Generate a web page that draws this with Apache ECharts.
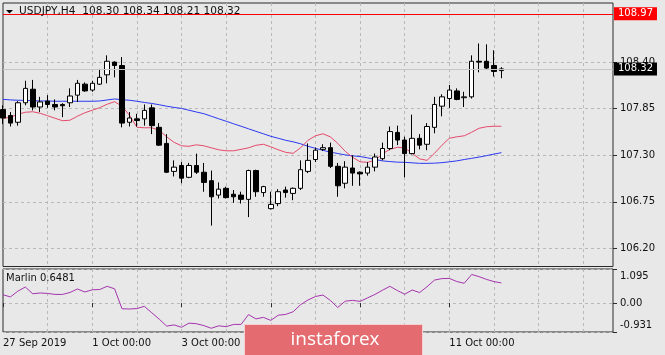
<!DOCTYPE html>
<html>
<head>
<meta charset="utf-8">
<script src="https://cdn.jsdelivr.net/npm/echarts@6/dist/echarts.min.js"></script>
<style>
  html, body { margin: 0; padding: 0; background: #e8e8e8; }
  #chart { width: 665px; height: 355px; }
</style>
</head>
<body>
<div id="chart"></div>
<script>
// USDJPY H4 candles: [open, close, low, high]
const candles = [
  [107.84, 107.74, 107.67, 107.89], [107.77, 107.68, 107.64, 107.81], [107.69, 107.92, 107.65, 107.94],
  [107.92, 108.09, 107.89, 108.18], [108.08, 107.87, 107.83, 108.19], [107.87, 107.93, 107.81, 107.99],
  [107.94, 107.90, 107.86, 108.01], [107.90, 107.87, 107.83, 107.96], [107.90, 107.885, 107.75, 107.915],
  [107.92, 108.00, 107.87, 108.09], [108.01, 108.15, 107.93, 108.19], [108.14, 108.06, 108.05, 108.16],
  [108.07, 108.15, 108.05, 108.18], [108.14, 108.22, 108.13, 108.32], [108.25, 108.41, 108.15, 108.48],
  [108.40, 108.36, 108.22, 108.41], [108.36, 107.68, 107.63, 108.46], [107.69, 107.74, 107.64, 107.81],
  [107.73, 107.71, 107.64, 107.79], [107.73, 107.83, 107.65, 107.90], [107.86, 107.65, 107.55, 107.90],
  [107.63, 107.42, 107.41, 107.68], [107.44, 107.10, 107.09, 107.55], [107.11, 107.16, 107.05, 107.24],
  [107.18, 107.03, 106.97, 107.22], [107.04, 107.18, 107.03, 107.21], [107.18, 107.10, 107.08, 107.32],
  [107.10, 106.98, 106.87, 107.21], [107.00, 106.81, 106.47, 107.12], [106.83, 106.90, 106.79, 106.98],
  [106.91, 106.80, 106.79, 106.93], [106.84, 106.81, 106.74, 106.89], [106.83, 106.78, 106.73, 106.87],
  [106.78, 107.12, 106.57, 107.13], [107.12, 106.87, 106.81, 107.13], [106.86, 106.93, 106.81, 106.94],
  [106.67, 106.72, 106.66, 106.87], [106.73, 106.87, 106.70, 106.90], [106.89, 106.86, 106.80, 106.93],
  [106.85, 106.91, 106.77, 106.92], [106.91, 107.13, 106.89, 107.24], [107.11, 107.24, 107.09, 107.44],
  [107.25, 107.36, 107.22, 107.39], [107.37, 107.39, 107.35, 107.43], [107.39, 107.17, 107.15, 107.45],
  [107.17, 106.94, 106.81, 107.21], [106.97, 107.16, 106.91, 107.23], [107.15, 107.09, 106.94, 107.30],
  [107.10, 107.08, 106.94, 107.11], [107.09, 107.16, 107.06, 107.22], [107.16, 107.28, 107.11, 107.32],
  [107.26, 107.38, 107.24, 107.45], [107.38, 107.58, 107.36, 107.64], [107.57, 107.48, 107.42, 107.65],
  [107.48, 107.32, 107.04, 107.52], [107.32, 107.50, 107.31, 107.78], [107.50, 107.42, 107.37, 107.55],
  [107.43, 107.64, 107.36, 107.68], [107.63, 107.90, 107.56, 107.99], [107.88, 107.99, 107.76, 108.02],
  [107.97, 108.07, 107.86, 108.13], [108.06, 107.96, 107.95, 108.09], [107.98, 107.99, 107.87, 108.05],
  [107.99, 108.41, 107.97, 108.48], [108.41, 108.40, 108.28, 108.62], [108.41, 108.33, 108.31, 108.61],
  [108.36, 108.29, 108.23, 108.54], [108.30, 108.32, 108.21, 108.34]
];

// moving averages (red fast, blue slow)
const maRed = [
  107.737, 107.749, 107.785, 107.808, 107.814, 107.796, 107.767, 107.737, 107.708, 107.714,
  107.761, 107.802, 107.832, 107.862, 107.903, 107.933, 107.879, 107.773, 107.631, 107.625,
  107.625, 107.595, 107.518, 107.453, 107.412, 107.406, 107.424, 107.412, 107.388, 107.365,
  107.353, 107.353, 107.370, 107.388, 107.418, 107.430, 107.400, 107.365, 107.335, 107.323,
  107.388, 107.477, 107.530, 107.554, 107.518, 107.441, 107.347, 107.276, 107.223, 107.217,
  107.240, 107.317, 107.370, 107.394, 107.388, 107.323, 107.258, 107.240, 107.323, 107.418,
  107.501, 107.518, 107.530, 107.572, 107.619, 107.637, 107.643, 107.643
];
const maBlue = [
  107.960, 107.954, 107.950, 107.948, 107.944, 107.942, 107.941, 107.938, 107.938, 107.938,
  107.938, 107.938, 107.938, 107.941, 107.953, 107.965, 107.956, 107.950, 107.938, 107.924,
  107.912, 107.897, 107.879, 107.865, 107.853, 107.832, 107.811, 107.791, 107.761, 107.731,
  107.702, 107.672, 107.643, 107.613, 107.583, 107.554, 107.524, 107.501, 107.477, 107.459,
  107.436, 107.406, 107.382, 107.359, 107.337, 107.321, 107.305, 107.294, 107.285, 107.270,
  107.252, 107.234, 107.226, 107.219, 107.217, 107.211, 107.205, 107.205, 107.207, 107.213,
  107.223, 107.234, 107.250, 107.264, 107.279, 107.296, 107.314, 107.331
];

// Marlin oscillator
const marlin = [
  0.267, 0.197, 0.382, 0.515, 0.299, 0.324, 0.309, 0.277, 0.277, 0.340,
  0.452, 0.356, 0.426, 0.436, 0.538, 0.458, -0.184, -0.191, -0.178, -0.105,
  -0.312, -0.518, -0.741, -0.703, -0.779, -0.646, -0.665, -0.725, -0.811, -0.732,
  -0.760, -0.687, -0.687, -0.372, -0.509, -0.461, -0.557, -0.391, -0.366, -0.280,
  -0.054, 0.099, 0.210, 0.258, 0.086, -0.143, 0.060, 0.086, 0.054, 0.165,
  0.277, 0.410, 0.538, 0.404, 0.283, 0.420, 0.337, 0.525, 0.738, 0.786,
  0.792, 0.693, 0.636, 0.919, 0.849, 0.760, 0.690, 0.6481
];

const tickIdx = [0, 12, 24, 36, 48, 60];
const tickText = ['27 Sep 2019', '1 Oct 00:00', '3 Oct 00:00', '7 Oct 00:00', '9 Oct 00:00', '11 Oct 00:00'];
const priceTicks = [106.20, 106.75, 107.30, 107.85, 108.40];
const marlinTicks = [-0.931, 0, 1.095];
const levelLine = 108.97;
const bidLine = 108.32;
const slots = 83; // visible bar slots incl. empty right margin

const cats = [];
for (let i = 0; i < slots; i++) cats.push(String(i));

const last = candles[candles.length - 1];
const titleText = 'USDJPY,H4  ' + [last[0], last[3], last[2], last[1]].map(v => v.toFixed(2)).join(' ');

const FONT = 'DejaVu Sans';
const gridLine = { show: true, lineStyle: { color: '#b9b9b9', type: [3, 3], width: 1 } };

const chart = echarts.init(document.getElementById('chart'));
chart.setOption({
  animation: false,
  backgroundColor: '#e8e8e8',
  textStyle: { fontFamily: FONT },
  title: [
    { text: titleText, left: 19, top: 6, padding: 0,
      textStyle: { fontSize: 10.6, fontWeight: 'normal', color: '#111', fontFamily: FONT } },
    { text: 'Marlin ' + marlin[marlin.length - 1], left: 6, top: 273, padding: 0,
      textStyle: { fontSize: 10, fontWeight: 'normal', color: '#111', fontFamily: FONT } }
  ],
  grid: [
    { left: 3, top: 3, width: 610, height: 263.5, show: true, borderColor: '#2a2a2a', borderWidth: 1 },
    { left: 3, top: 269, width: 610, height: 63, show: true, borderColor: '#2a2a2a', borderWidth: 1 }
  ],
  xAxis: [
    { type: 'category', gridIndex: 0, data: cats, boundaryGap: false,
      axisLine: { show: false }, axisTick: { show: false }, axisLabel: { show: false },
      splitLine: Object.assign({ interval: i => i % 6 === 0 && i > 0 }, gridLine) },
    { type: 'category', gridIndex: 1, data: cats, boundaryGap: false,
      axisLine: { show: false },
      axisTick: { show: true, interval: i => tickIdx.includes(i), length: 4, lineStyle: { color: '#2a2a2a' } },
      axisLabel: { show: true, interval: i => tickIdx.includes(i), align: 'left', margin: 6,
        color: '#111', fontSize: 10, fontFamily: FONT,
        formatter: (v, i) => tickText[tickIdx.indexOf(i)] || '' },
      splitLine: Object.assign({ interval: i => i % 6 === 0 && i > 0 }, gridLine) }
  ],
  yAxis: [
    { type: 'value', gridIndex: 0, position: 'right', min: 105.987, max: 109.098,
      axisLine: { show: false },
      axisTick: { show: true, customValues: priceTicks, length: 4, lineStyle: { color: '#2a2a2a' } },
      axisLabel: { customValues: priceTicks, margin: 7, color: '#111', fontSize: 10, fontFamily: FONT,
        formatter: v => v.toFixed(2) },
      splitLine: gridLine },
    { type: 'value', gridIndex: 1, position: 'right', min: -0.931, max: 1.095,
      axisLine: { show: false },
      axisTick: { show: true, customValues: marlinTicks, length: 4, lineStyle: { color: '#2a2a2a' } },
      axisLabel: { customValues: marlinTicks, margin: 7, color: '#111', fontSize: 10, fontFamily: FONT,
        formatter: v => v === 0 ? '0.00' : (v > 0 ? '{t|' + v + '}' : '{b|' + v + '}'),
        rich: {
          t: { fontSize: 10, fontFamily: FONT, color: '#111', padding: [15, 0, 0, 0] },
          b: { fontSize: 10, fontFamily: FONT, color: '#111', padding: [0, 0, 13, 0] }
        } },
      splitLine: gridLine }
  ],
  series: [
    { type: 'line', xAxisIndex: 0, yAxisIndex: 0, data: maBlue, symbol: 'none',
      lineStyle: { color: '#2b38f2', width: 1 }, z: 2 },
    { type: 'line', xAxisIndex: 0, yAxisIndex: 0, data: maRed, symbol: 'none',
      lineStyle: { color: '#e64a6c', width: 1 }, z: 2,
      markLine: {
        silent: true, symbol: 'none', animation: false,
        data: [
          { yAxis: levelLine, lineStyle: { color: '#ff0000', width: 1, type: 'solid' },
            label: { position: 'end', distance: 1, formatter: levelLine.toFixed(2), color: '#fff',
              backgroundColor: '#ff0000', padding: [2, 4, 1, 4], fontSize: 10, fontFamily: FONT } },
          { yAxis: bidLine, lineStyle: { color: '#c6c6c6', width: 1, type: 'solid' },
            label: { position: 'end', distance: 1, formatter: bidLine.toFixed(2), color: '#fff',
              backgroundColor: '#000', padding: [2, 4, 1, 4], fontSize: 10, fontFamily: FONT } }
        ]
      } },
    { type: 'candlestick', xAxisIndex: 0, yAxisIndex: 0, data: candles, barWidth: 5, z: 3,
      itemStyle: { color: '#ffffff', color0: '#000000', borderColor: '#000000', borderColor0: '#000000', borderWidth: 1 } },
    { type: 'line', xAxisIndex: 1, yAxisIndex: 1, data: marlin, symbol: 'none',
      lineStyle: { color: '#a535ad', width: 1 } }
  ],
  graphic: [
    { type: 'polygon', shape: { points: [[6, 10], [13, 10], [9.5, 13.5]] }, style: { fill: '#000' } },
    { type: 'group', left: 244, top: 324, zlevel: 5, z: 100, children: [
      { type: 'rect', zlevel: 5, shape: { x: 0, y: 0, width: 178, height: 31 },
        style: { fill: '#e46b70', stroke: '#f4d0d0', lineWidth: 1 } },
      { type: 'text', zlevel: 5, x: 46, y: 15.5,
        style: { text: 'instaforex', fill: '#ffffff', font: '19px "Open Sans"', verticalAlign: 'middle' } }
    ] }
  ]
});
</script>
</body>
</html>
